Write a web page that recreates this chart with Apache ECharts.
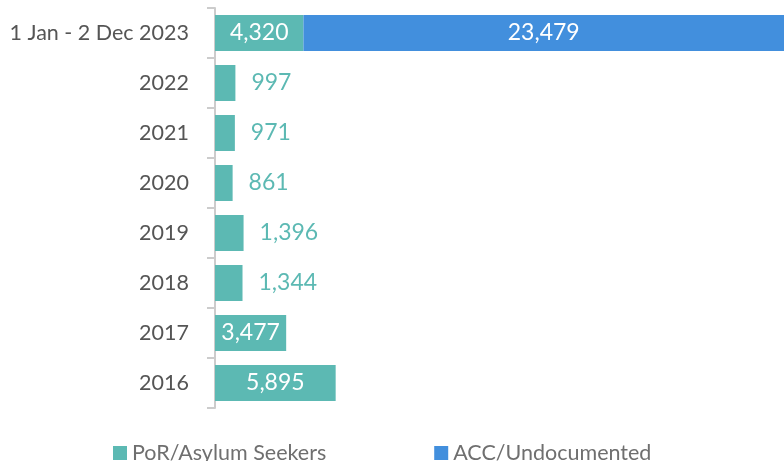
<!DOCTYPE html>
<html>
<head>
<meta charset="utf-8">
<script src="https://cdn.jsdelivr.net/npm/echarts@6/dist/echarts.min.js"></script>
<style>
  html, body { margin: 0; padding: 0; background: #fff; }
  #chart { width: 784px; height: 461px; }
</style>
</head>
<body>
<div id="chart"></div>
<script>
// categories, bottom to top
const categories = ['2016', '2017', '2018', '2019', '2020', '2021', '2022', '1 Jan - 2 Dec 2023'];
const porAsylum = [5895, 3477, 1344, 1396, 861, 971, 997, 4320];
const accUndocumented = [null, null, null, null, null, null, null, 23479];

const teal = '#5cb9b3';
const blue = '#428fdd';
const fontFamily = 'Lato, "Open Sans", sans-serif';

const fmt = v => v.toLocaleString('en-US');

// small bars get their label outside, in teal
const porData = porAsylum.map(v => {
  if (v >= 3000) return v;
  return {
    value: v,
    label: { position: 'right', distance: 16, color: teal }
  };
});

const chart = echarts.init(document.getElementById('chart'));

const option = {
  animation: false,
  textStyle: { fontFamily },
  grid: { left: 215, right: 0, top: 8, bottom: 53, containLabel: false },
  legend: {
    top: 437,
    left: 108,
    itemWidth: 14,
    itemHeight: 14,
    itemGap: 108,
    icon: 'rect',
    textStyle: { fontSize: 21.5, color: '#6f6f6f', fontFamily },
    data: ['PoR/Asylum Seekers', 'ACC/Undocumented']
  },
  xAxis: {
    type: 'value',
    min: 0,
    max: 27799,
    show: false
  },
  yAxis: {
    type: 'category',
    data: categories,
    axisLine: { lineStyle: { color: '#cccccc', width: 2 } },
    axisTick: { show: true, length: 8, lineStyle: { color: '#cccccc', width: 2 } },
    axisLabel: { fontSize: 21.5, color: '#555555', margin: 26, fontFamily }
  },
  series: [
    {
      name: 'PoR/Asylum Seekers',
      type: 'bar',
      stack: 'total',
      barWidth: 36,
      itemStyle: { color: teal },
      label: {
        show: true,
        position: 'inside',
        color: '#ffffff',
        fontSize: 23,
        fontFamily,
        formatter: p => fmt(p.value)
      },
      data: porData
    },
    {
      name: 'ACC/Undocumented',
      type: 'bar',
      stack: 'total',
      barWidth: 36,
      itemStyle: { color: blue },
      label: {
        show: true,
        position: 'inside',
        color: '#ffffff',
        fontSize: 23,
        fontFamily,
        formatter: p => p.value == null ? '' : fmt(p.value)
      },
      data: accUndocumented
    }
  ]
};

chart.setOption(option);
</script>
</body>
</html>
